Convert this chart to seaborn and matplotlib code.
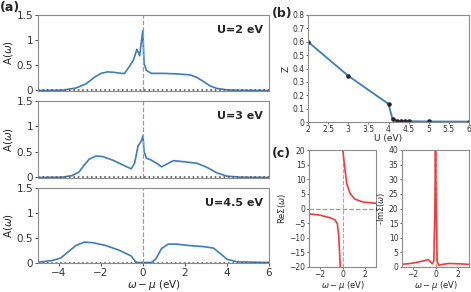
import numpy as np
import pandas as pd
import matplotlib
matplotlib.use("Agg")
import matplotlib.pyplot as plt
import seaborn as sns

# ---------------- data ----------------
# (a) spectral functions A(w)
w_u2 = [-5.0, -3.84, -3.19, -2.72, -2.32, -2.0, -1.68, -1.36, -1.04, -0.88, -0.64, -0.45,
        -0.29, -0.16, -0.01, 0.05, 0.16, 0.4, 0.96, 1.6, 2.24, 2.56, 2.88, 3.2, 3.52, 4.0, 4.6, 6.0]
a_u2 = [0.0, 0.005, 0.05, 0.13, 0.26, 0.34, 0.37, 0.36, 0.34, 0.34, 0.48, 0.61,
        0.82, 0.69, 1.19, 0.54, 0.40, 0.34, 0.34, 0.33, 0.31, 0.26, 0.18, 0.09, 0.04, 0.013, 0.003, 0.0]

w_u3 = [-5.0, -3.84, -3.36, -3.04, -2.8, -2.56, -2.24, -1.92, -1.44, -0.96, -0.56, -0.4,
        -0.24, -0.08, 0.0, 0.05, 0.16, 0.4, 0.64, 0.88, 1.12, 1.44, 1.92, 2.56, 3.04, 3.52, 4.0, 4.64, 6.0]
a_u3 = [0.0, 0.005, 0.04, 0.11, 0.245, 0.36, 0.42, 0.41, 0.34, 0.245, 0.17, 0.28,
        0.61, 0.72, 0.82, 0.51, 0.38, 0.34, 0.28, 0.21, 0.26, 0.33, 0.31, 0.28, 0.2, 0.09, 0.026, 0.005, 0.0]

w_u45 = [-5.0, -4.32, -3.92, -3.52, -3.2, -2.8, -2.4, -1.76, -1.12, -0.8, -0.56, -0.35, -0.25,
         0.4, 0.61, 0.88, 1.2, 1.6, 2.24, 2.88, 3.36, 3.68, 4.0, 4.48, 6.0]
a_u45 = [0.005, 0.04, 0.09, 0.23, 0.34, 0.41, 0.40, 0.34, 0.245, 0.18, 0.13, 0.013, 0.0,
         0.0, 0.07, 0.28, 0.37, 0.37, 0.34, 0.32, 0.29, 0.18, 0.066, 0.013, 0.0]

u_labels = ["U=2 eV", "U=3 eV", "U=4.5 eV"]

# (b) quasiparticle weight
u_vals = [2, 3, 4, 4.1, 4.2, 4.3, 4.4, 4.5, 5, 6]
z_vals = [0.6, 0.345, 0.135, 0.02, 0.01, 0.008, 0.007, 0.006, 0.004, 0.003]

# (c) self energy, U=4.5
re_w_neg = [-3.0, -2.0, -1.1, -0.67, -0.46, -0.34, -0.2]
re_s_neg = [-1.8, -2.3, -3.2, -3.9, -5.3, -9.1, -20.0]
re_w_pos = [0.03, 0.17, 0.38, 0.67, 1.1, 1.85, 3.0]
re_s_pos = [20.0, 15.0, 8.5, 5.2, 3.2, 2.2, 1.8]

im_w = [-3.0, -2.06, -1.18, -0.65, -0.44, -0.3, -0.15, -0.06, 0.0, 0.06, 0.15, 0.3, 0.6, 1.2, 2.1, 3.0]
im_s = [0.9, 1.3, 2.0, 2.5, 1.8, 1.1, 2.0, 19.6, 40.0, 19.6, 2.0, 0.55, 0.9, 1.2, 1.1, 0.9]

# ---------------- figure ----------------
sns.set_style("ticks", {"axes.edgecolor": "0.55"})
plt.rcParams["font.family"] = ["DejaVu Sans"]
plt.rcParams["mathtext.fontset"] = "dejavusans"

W, H = 471, 292
fig = plt.figure(figsize=(W / 100, H / 100), dpi=100)

def px_axes(x0, y0, x1, y1):
    return fig.add_axes([x0 / W, 1 - y1 / H, (x1 - x0) / W, (y1 - y0) / H])

blue = "#3b7dbf"
spec = [(w_u2, a_u2), (w_u3, a_u3), (w_u45, a_u45)]
rows = [(15, 91), (101, 178), (188, 263)]
for i, ((w, a), (y0, y1)) in enumerate(zip(spec, rows)):
    ax = px_axes(38, y0, 269, y1)
    sns.lineplot(x=w, y=a, ax=ax, color=blue, lw=1.2)
    ax.axvline(0, color="0.6", ls="--", lw=0.9)
    ax.axhline(0, color="0.35", ls=":", lw=1.2)
    ax.set_xlim(-5, 6)
    ax.set_ylim(-0.01, 1.5)
    ax.set_yticks([0, 0.5, 1, 1.5])
    ax.set_yticklabels(["0", "0.5", "1", "1.5"])
    ax.set_xticks([-4, -2, 0, 2, 4, 6])
    ax.tick_params(labelsize=7.5, length=2, width=0.6, pad=1.5, colors="0.2")
    ax.set_ylabel(r"A($\omega$)", fontsize=7.5, labelpad=1)
    ax.text(0.975, 0.87, u_labels[i], transform=ax.transAxes, ha="right", va="top",
            fontsize=8, fontweight="bold")
    if i < 2:
        ax.tick_params(axis="x", labelbottom=False, length=0)
    else:
        ax.set_xlabel(r"$\omega-\mu$ (eV)", fontsize=7.5, labelpad=0)

# (b)
axb = px_axes(308, 15, 469, 122)
sns.lineplot(x=u_vals, y=z_vals, ax=axb, color=blue, lw=1.3, marker="o",
             markersize=2.5, markerfacecolor="0.15", markeredgecolor="0.15")
axb.set_xlim(2, 6)
axb.set_ylim(0, 0.8)
axb.set_xticks([2, 2.5, 3, 3.5, 4, 4.5, 5, 5.5, 6])
axb.set_xticklabels(["2", "2.5", "3", "3.5", "4", "4.5", "5", "5.5", "6"])
axb.set_yticks(np.arange(0, 0.81, 0.1))
axb.set_yticklabels(["0", "0.1", "0.2", "0.3", "0.4", "0.5", "0.6", "0.7", "0.8"])
axb.tick_params(labelsize=5.5, length=1.5, width=0.5, pad=1, colors="0.2")
axb.set_xlabel("U (eV)", fontsize=6.5, labelpad=0)
axb.set_ylabel("Z", fontsize=6.5, labelpad=1)

# (c)
red = "#f43a3a"
axc1 = px_axes(309, 150, 376, 267)
sns.lineplot(x=re_w_neg, y=re_s_neg, ax=axc1, color=red, lw=1.2)
sns.lineplot(x=re_w_pos, y=re_s_pos, ax=axc1, color=red, lw=1.2)
axc1.axvline(0, color=red, ls="--", lw=0.8, alpha=0.6)
axc1.axhline(0, color="0.6", ls="--", lw=0.9)
axc1.set_xlim(-3, 3)
axc1.set_ylim(-20, 20)
axc1.set_xticks([-2, 0, 2])
axc1.set_yticks(np.arange(-20, 21, 5))
axc1.tick_params(labelsize=5.5, length=1.5, width=0.5, pad=1, colors="0.2")
axc1.set_ylabel(r"Re$\Sigma(\omega)$", fontsize=6, labelpad=1)
axc1.set_xlabel(r"$\omega-\mu$ (eV)", fontsize=6, labelpad=0)

axc2 = px_axes(402, 150, 469, 267)
sns.lineplot(x=im_w, y=im_s, ax=axc2, color=red, lw=1.2)
axc2.axvline(0, color=red, ls="--", lw=0.8, alpha=0.6)
axc2.axhline(0, color="0.6", ls="--", lw=0.9)
axc2.set_xlim(-3, 3)
axc2.set_ylim(0, 40)
axc2.set_xticks([-2, 0, 2])
axc2.set_yticks(np.arange(0, 41, 5))
axc2.tick_params(labelsize=5.5, length=1.5, width=0.5, pad=1, colors="0.2")
axc2.set_ylabel(r"-Im$\Sigma(\omega)$", fontsize=6, labelpad=1)
axc2.set_xlabel(r"$\omega-\mu$ (eV)", fontsize=6, labelpad=0)

fig.text(0 / W, 1 - 8 / H, "(a)", fontsize=9, fontweight="bold", va="center", ha="left")
fig.text(272 / W, 1 - 13 / H, "(b)", fontsize=9, fontweight="bold", va="center", ha="left")
fig.text(272 / W, 1 - 153 / H, "(c)", fontsize=9, fontweight="bold", va="center", ha="left")

fig.savefig("out.png", dpi=100)
